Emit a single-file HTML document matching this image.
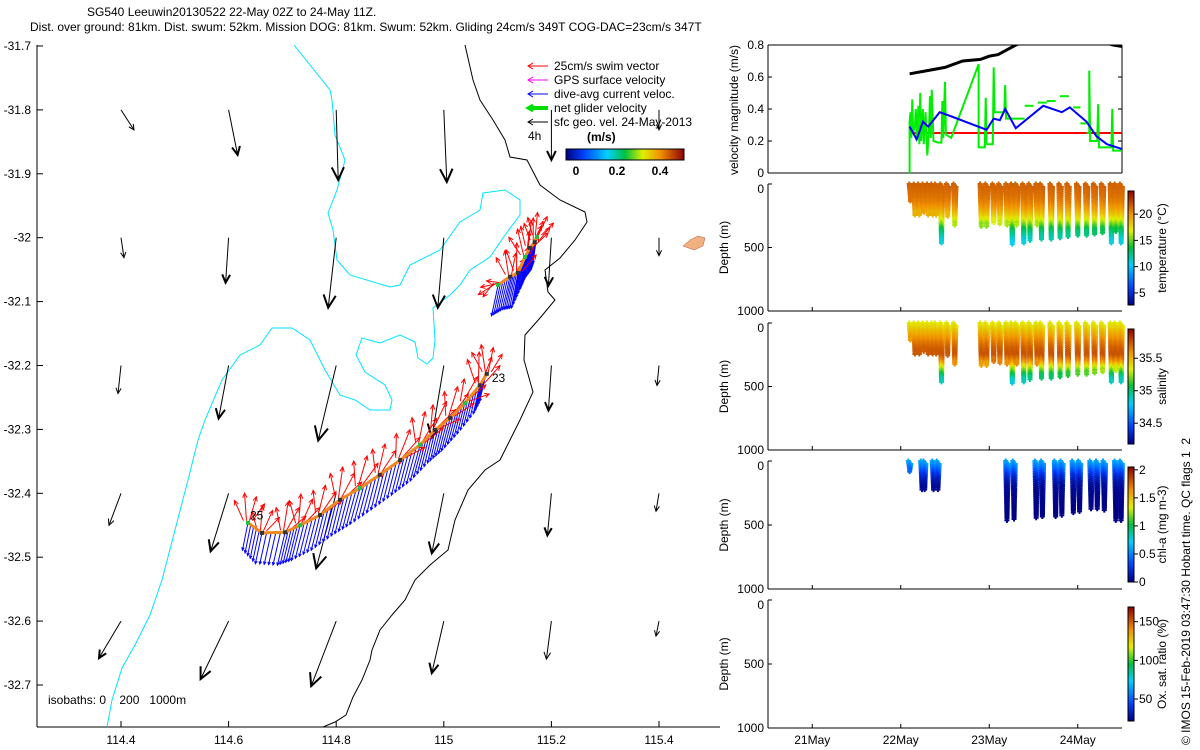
<!DOCTYPE html>
<html><head><meta charset="utf-8">
<style>
html,body{margin:0;padding:0;background:#fff;}
svg{display:block;font-family:"Liberation Sans",sans-serif;}
text{font-size:12px;fill:#000;}
</style></head>
<body>
<svg id="chart" width="1200" height="750" viewBox="0 0 1200 750" xmlns="http://www.w3.org/2000/svg">
<defs>
<linearGradient id="jetV" x1="0" y1="1" x2="0" y2="0">
<stop offset="0" stop-color="#000080"/><stop offset="0.15" stop-color="#0040ff"/><stop offset="0.35" stop-color="#00d0ff"/><stop offset="0.5" stop-color="#00c040"/><stop offset="0.65" stop-color="#e0f000"/><stop offset="0.8" stop-color="#f09000"/><stop offset="1" stop-color="#900000"/>
</linearGradient>
<linearGradient id="jetH" x1="0" y1="0" x2="1" y2="0">
<stop offset="0" stop-color="#000080"/><stop offset="0.15" stop-color="#0040ff"/><stop offset="0.35" stop-color="#00d0ff"/><stop offset="0.5" stop-color="#00c040"/><stop offset="0.65" stop-color="#e0f000"/><stop offset="0.8" stop-color="#f09000"/><stop offset="1" stop-color="#900000"/>
</linearGradient>
<clipPath id="mapClip"><rect x="37" y="45" width="683" height="682"/></clipPath>
<clipPath id="velClip"><rect x="768" y="45" width="354" height="128"/></clipPath>
</defs>
<text x="87" y="16">SG540 Leeuwin20130522 22-May 02Z to 24-May 11Z.</text>
<text x="30" y="31">Dist. over ground: 81km. Dist. swum: 52km. Mission DOG: 81km. Swum: 52km. Gliding 24cm/s 349T COG-DAC=23cm/s 347T</text>
<g id="map"></g>
<g id="panels"></g>
<text transform="translate(1190,745) rotate(-90)" style="white-space:pre">© IMOS 15-Feb-2019 03:47:30 Hobart time. QC flags 1  2</text>
</svg>
<script>
// ---------- MAP DATA ----------
const lonTicks=[114.4,114.6,114.8,115,115.2,115.4];
const latTicks=[-31.7,-31.8,-31.9,-32,-32.1,-32.2,-32.3,-32.4,-32.5,-32.6,-32.7];
const gridLon=[114.4,114.6,114.8,115.0,115.2,115.4];
const gridLat=[-31.8,-32.0,-32.2,-32.4,-32.6];
const geoU=[[0.13,0.09,0.02,0.03,0,0],[0.03,-0.03,-0.08,-0.06,-0.03,0],[-0.03,-0.10,-0.18,-0.12,-0.03,-0.02],[-0.12,-0.18,-0.20,-0.12,-0.04,-0.03],[-0.22,-0.28,-0.25,-0.12,-0.05,-0.03]];
const geoV=[[-0.20,-0.45,-0.70,-0.72,-0.50,-0.20],[-0.20,-0.45,-0.70,-0.70,-0.48,-0.18],[-0.28,-0.53,-0.75,-0.72,-0.45,-0.20],[-0.32,-0.58,-0.75,-0.60,-0.42,-0.18],[-0.37,-0.58,-0.65,-0.52,-0.38,-0.15]];
const mainLon=[114.636,114.662,114.705,114.733,114.770,114.807,114.844,114.881,114.919,114.956,114.984,115.012,115.039,115.067,115.080];
const mainLat=[-32.446,-32.462,-32.461,-32.450,-32.434,-32.410,-32.392,-32.371,-32.348,-32.324,-32.301,-32.282,-32.259,-32.231,-32.213];
const mainSwimU=[0.02,0.05,0.08,0.06,0.10,0.08,0.12,0.10,0.14,0.10,0.15,0.12,0.16,0.05,0.00];
const mainSwimV=[0.25,0.22,0.25,0.26,0.24,0.27,0.26,0.25,0.24,0.27,0.22,0.25,0.20,0.28,0.25];
const mainCurU=[-0.05,-0.06,-0.07,-0.08,-0.08,-0.08,-0.09,-0.08,-0.08,-0.09,-0.07,-0.08,-0.07,-0.06,-0.05];
const mainCurV=[-0.25,-0.28,-0.30,-0.32,-0.32,-0.33,-0.33,-0.32,-0.32,-0.33,-0.30,-0.30,-0.28,-0.26,-0.22];
const upLon=[115.101,115.123,115.138,115.151,115.160,115.169,115.173];
const upLat=[-32.074,-32.061,-32.055,-32.030,-32.016,-32.007,-31.999];
const upSwimU=[-0.18,0.00,0.04,-0.02,0.06,0.03,0.05];
const upSwimV=[-0.08,0.22,0.25,0.24,0.22,0.20,0.20];
const upCurU=[-0.06,-0.07,-0.06,-0.05,-0.05,-0.04,-0.03];
const upCurV=[-0.28,-0.30,-0.32,-0.30,-0.28,-0.26,-0.22];

// ---------- TIME SERIES DATA ----------
const dateTicks=[21,22,23,24];
const dateLabels=["21May","22May","23May","24May"];
const velTicks=[0,0.2,0.4,0.6,0.8];
const blackT=[22.10,22.30,22.50,22.60,22.70,22.90,23.00,23.10,23.20,23.30,23.60,24.00,24.40,24.51];
const blackV=[0.62,0.64,0.66,0.68,0.70,0.71,0.73,0.74,0.77,0.80,0.86,0.86,0.80,0.79];
const blueT=[22.10,22.18,22.25,22.31,22.44,22.59,22.97,23.05,23.12,23.18,23.30,23.61,23.82,23.91,24.10,24.21,24.33,24.50];
const blueV=[0.29,0.21,0.32,0.29,0.38,0.35,0.27,0.34,0.33,0.40,0.28,0.42,0.38,0.41,0.32,0.23,0.18,0.15];
const redT=[22.10,24.50];
const redV=[0.25,0.25];
const greenT=[22.10,22.10,22.11,22.12,22.13,22.14,22.16,22.17,22.18,22.20,22.21,22.22,22.23,22.25,22.26,22.28,22.30,22.32,22.33,22.34,22.35,22.37,22.42,22.46,22.47,22.48,22.50,22.51,22.57,22.88,22.88,22.95,22.96,22.97,23.04,23.05,23.06,23.17,23.18,23.19,23.25,23.40];
const greenV=[0.00,0.32,0.38,0.22,0.46,0.25,0.30,0.40,0.22,0.42,0.18,0.50,0.20,0.40,0.18,0.38,0.11,0.28,0.48,0.22,0.52,0.20,0.19,0.19,0.45,0.22,0.57,0.24,0.22,0.68,0.16,0.16,0.47,0.18,0.18,0.66,0.38,0.38,0.55,0.34,0.34,0.34];
const dashT0=[23.40,23.55,23.65,23.80,23.95,24.03];
const dashT1=[23.50,23.65,23.75,23.90,24.03,24.10];
const dashV=[0.42,0.44,0.45,0.48,0.41,0.31];
const green2T=[24.10,24.13,24.13,24.14,24.22,24.23,24.24,24.38,24.39,24.40,24.50];
const green2V=[0.25,0.25,0.64,0.20,0.20,0.43,0.16,0.16,0.40,0.14,0.14];
const diveT=[22.11,22.16,22.21,22.26,22.31,22.36,22.40,22.46,22.53,22.61,22.91,22.97,23.05,23.12,23.20,23.26,23.31,23.39,23.46,23.54,23.59,23.70,23.80,23.89,24.00,24.10,24.19,24.28,24.38,24.43,24.49];
const diveMax=[110,220,220,200,220,220,220,440,230,300,310,310,280,290,300,450,300,440,420,300,410,410,400,390,380,380,370,360,440,350,440];
const chlT=[22.10,22.24,22.27,22.37,22.42,23.20,23.28,23.53,23.60,23.75,23.82,23.95,24.02,24.15,24.22,24.30,24.43,24.49];
const chlMax=[60,200,200,200,200,440,430,420,410,410,400,380,370,350,350,360,440,440];
const profDepth=[0,100,150,200,250,300,350,400,450];
const tempVal=[21.5,21.0,20.5,19.5,18.0,16.0,13.5,12.0,10.5];
const salVal=[35.35,35.55,35.65,35.72,35.75,35.60,35.30,35.05,34.85];
const chlDepth=[0,50,100,150,200,300,450];
const chlVal=[0.60,0.45,0.25,0.12,0.05,0.02,0.01];
const tempCbTicks=[5,10,15,20];
const salCbTicks=[34.5,35,35.5];
const chlCbTicks=[0,0.5,1,1.5,2];
const chlCbLabels=["0","0.5","1","1.5","2"];
const oxCbTicks=[50,100,150];
const depthTicks=[0,500,1000];

// ---------- helpers ----------
const NS="http://www.w3.org/2000/svg";
function mk(tag,attrs,parent){const e=document.createElementNS(NS,tag);for(const k in attrs)e.setAttribute(k,attrs[k]);parent.appendChild(e);return e;}
const cmapPos=[0,0.15,0.35,0.5,0.65,0.8,1];
const cmapCol=[[0,0,128],[0,64,255],[0,208,255],[0,192,64],[224,240,0],[240,144,0],[144,0,0]];
function jet(f){f=Math.max(0,Math.min(1,f));let i=1;while(i<cmapPos.length-1&&f>cmapPos[i])i++;
 const t=(f-cmapPos[i-1])/(cmapPos[i]-cmapPos[i-1]);const a=cmapCol[i-1],b=cmapCol[i];
 return `rgb(${Math.round(a[0]+t*(b[0]-a[0]))},${Math.round(a[1]+t*(b[1]-a[1]))},${Math.round(a[2]+t*(b[2]-a[2]))})`;}
function interp(xs,ys,x){if(x<=xs[0])return ys[0];for(let i=1;i<xs.length;i++){if(x<=xs[i]){const t=(x-xs[i-1])/(xs[i]-xs[i-1]);return ys[i-1]+t*(ys[i]-ys[i-1]);}}return ys[ys.length-1];}

const map=document.getElementById('map');
const mx=lon=>121+(lon-114.4)*538;
const my=lat=>46+(-31.7-lat)*639;
const PXV=100;
let e=mk('line',{x1:37,y1:45,x2:37,y2:727,stroke:'#000','stroke-width':1},map);

e=mk('line',{x1:37,y1:727,x2:720,y2:727,stroke:'#000','stroke-width':1},map);

lonTicks.forEach(v=>{const x=mx(v);
 e=mk('line',{x1:x,y1:727,x2:x,y2:721,stroke:'#000'},map);
 
 e=mk('text',{x:x,y:744,'text-anchor':'middle'},map);e.textContent=String(v);
 });
latTicks.forEach(v=>{const y=my(v);
 e=mk('line',{x1:37,y1:y,x2:43,y2:y,stroke:'#000'},map);
 
 e=mk('text',{x:31,y:y+4,'text-anchor':'end'},map);e.textContent=String(v);
 });

const mg=mk('g',{'clip-path':'url(#mapClip)'},map);
e=mk('polyline',{fill:'none',stroke:'#00e5ff','stroke-width':1,points:"294,45 330,90 332,100 335,135 345,160 337,190 328,213 333,230 337,260 350,275 390,287 400,285 410,265 440,250 460,222 480,210 483,193 505,190 520,200 520,215 505,235 490,257 470,270 460,285 450,295 433,308 435,340 433,358 427,364 418,358 415,342 400,335 380,343 362,338 356,355 365,372 385,385 392,400 390,410 370,410 355,400 340,395 325,370 310,340 292,328 272,328 260,345 240,355 222,380 205,420 198,440 188,480 175,530 162,580 150,615 135,645 122,668 112,700 107,727"},mg);

e=mk('polyline',{fill:'none',stroke:'#000','stroke-width':1,points:"465,45 473,80 480,100 493,120 505,140 510,157 527,160 540,185 560,200 585,212 587,222 575,240 560,258 545,270 548,292 555,300 540,318 525,335 524,360 533,392 520,420 510,440 500,460 485,470 468,490 455,520 448,550 430,565 415,580 405,600 392,615 380,630 372,650 370,660 362,680 353,697 346,715 335,722 323,727"},mg);

e=mk('path',{d:"M683,246 L690,240 L698,236 L705,238 L703,246 L694,250 Z",fill:'#f0b080',stroke:'#a06040','stroke-width':0.5},mg);


function arrow(g,x,y,dx,dy,color,w,head,name){
 const grp=mk('g',{},g);
 mk('line',{x1:x,y1:y,x2:x+dx,y2:y+dy,stroke:color,'stroke-width':w},grp);
 const L=Math.hypot(dx,dy);if(L<1)return;const ux=dx/L,uy=dy/L;const h=head;
 const a=0.45;const ex=x+dx,ey=y+dy;
 const p1=[ex-h*(ux*Math.cos(a)-uy*Math.sin(a)),ey-h*(uy*Math.cos(a)+ux*Math.sin(a))];
 const p2=[ex-h*(ux*Math.cos(a)+uy*Math.sin(a)),ey-h*(uy*Math.cos(a)-ux*Math.sin(a))];
 mk('polyline',{points:`${p1[0]},${p1[1]} ${ex},${ey} ${p2[0]},${p2[1]}`,fill:'none',stroke:color,'stroke-width':w*(head>8?2:1)},grp);
}
gridLat.forEach((la,i)=>gridLon.forEach((lo,j)=>{
 const dx=geoU[i][j]*PXV,dy=-geoV[i][j]*PXV;const L=Math.hypot(dx,dy);
 arrow(mg,mx(lo),my(la),dx,dy,'#000',1,Math.max(6,L*0.2),'geo-velocity-arrow');
}));
const PXS=110;
function drawTrack(lons,lats,su,sv,cu,cv,label){
 for(let i=0;i<lons.length-1;i++){for(let k=0;k<5;k++){const t=k/5;
  const lo=lons[i]+t*(lons[i+1]-lons[i]),la=lats[i]+t*(lats[i+1]-lats[i]);
  const u=cu[i]+t*(cu[i+1]-cu[i]),v=cv[i]+t*(cv[i+1]-cv[i]);
  arrow(mg,mx(lo),my(la),u*PXS,-v*PXS,'#0000ff',1,3,'dive-avg-current-vector');}}
 lons.forEach((lo,i)=>{const x=mx(lo),y=my(lats[i]);
  [-0.5,-0.15,0.2,0.55].forEach((r,k)=>{const dx=su[i]*PXS,dy=-sv[i]*PXS;
   const c=Math.cos(r),s=Math.sin(r);const f=[0.8,1,0.9,0.75][k];
   arrow(mg,x+(k-1.5)*3,y-2,f*(dx*c-dy*s),f*(dx*s+dy*c),'#ff0000',1,5,'swim-vector');});});
 const pts=lons.map((lo,i)=>mx(lo)+','+my(lats[i])).join(' ');
 e=mk('polyline',{points:pts,fill:'none',stroke:'#f08a20','stroke-width':3},mg);
 
 lons.forEach((lo,i)=>{e=mk('rect',{x:mx(lo)-2,y:my(lats[i])-2,width:4,height:4,fill:i%3===0?'#20c040':'#333'},mg);
  });
}
drawTrack(mainLon,mainLat,mainSwimU,mainSwimV,mainCurU,mainCurV,'glider-track-main');
drawTrack(upLon,upLat,upSwimU,upSwimV,upCurU,upCurV,'glider-track-north');
e=mk('text',{x:mx(mainLon[0])+2,y:my(mainLat[0])-3},mg);e.textContent='25';

e=mk('text',{x:mx(mainLon[mainLon.length-1])+5,y:my(mainLat[mainLat.length-1])+8},mg);e.textContent='23';

e=mk('text',{x:48,y:704,style:'white-space:pre'},map);e.textContent='isobaths: 0    200   1000m';


const lg=mk('g',{},map);
const legItems=[['25cm/s swim vector','#ff0000',1],['GPS surface velocity','#ff00ff',1],['dive-avg current veloc.','#0000ff',1],['net glider velocity','#00e000',4],['sfc geo. vel. 24-May-2013','#000',1]];
legItems.forEach((it,i)=>{const y=66+i*14;
 const g2=mk('g',{},lg);
 mk('line',{x1:528,y1:y,x2:548,y2:y,stroke:it[1],'stroke-width':it[2]},g2);
 mk('polyline',{points:`533,${y-3} 528,${y} 533,${y+3}`,fill:'none',stroke:it[1],'stroke-width':it[2]>1?3:1},g2);
 const t=mk('text',{x:554,y:y+4},g2);t.textContent=it[0];});
e=mk('text',{x:528,y:140},lg);e.textContent='4h';

e=mk('text',{x:587,y:141,'font-weight':'bold'},lg);e.textContent='(m/s)';

e=mk('rect',{x:566,y:149,width:118,height:11,fill:'url(#jetH)',stroke:'#000'},lg);

[[0,576],[0.2,617],[0.4,660]].forEach(p=>{e=mk('text',{x:p[1],y:175,'text-anchor':'middle','font-weight':'bold'},lg);e.textContent=String(p[0]);
 });

// ---------- RIGHT PANELS ----------
const pn=document.getElementById('panels');
const X0=768,X1=1122;
const tx=t=>X0+(t-20.5)*88.5;
const VT=45,VB=173;const vy=v=>VB-v*(VB-VT)/0.8;
e=mk('line',{x1:X0,y1:VT,x2:X1,y2:VT,stroke:'#000'},pn);
e=mk('line',{x1:X0,y1:VB,x2:X1,y2:VB,stroke:'#000'},pn);
e=mk('line',{x1:X0,y1:VT,x2:X0,y2:VB,stroke:'#000'},pn);
e=mk('line',{x1:X1,y1:VT,x2:X1,y2:VB,stroke:'#000'},pn);
velTicks.forEach(v=>{const y=vy(v);
 mk('line',{x1:X0,y1:y,x2:X0+4,y2:y,stroke:'#000'},pn);mk('line',{x1:X1,y1:y,x2:X1-4,y2:y,stroke:'#000'},pn);
 e=mk('text',{x:X0-4,y:y+4,'text-anchor':'end'},pn);e.textContent=String(v);
 });
e=mk('text',{transform:`translate(738,110) rotate(-90)`,'text-anchor':'middle'},pn);e.textContent='velocity magnitude (m/s)';

const vc=mk('g',{'clip-path':'url(#velClip)'},pn);
function pl(ts,vs,col,w,name){e=mk('polyline',{points:ts.map((t,i)=>tx(t)+','+vy(vs[i])).join(' '),fill:'none',stroke:col,'stroke-width':w},vc);
 }
pl(redT,redV,'#ff0000',2,'swim-speed-line');
pl(greenT,greenV,'#00ee00',2,'net-velocity-line');
pl(green2T,green2V,'#00ee00',2,'net-velocity-line-end');
dashT0.forEach((t,i)=>{e=mk('line',{x1:tx(t),y1:vy(dashV[i]),x2:tx(dashT1[i]),y2:vy(dashV[i]),stroke:'#00ee00','stroke-width':2},vc);
 });
pl(blueT,blueV,'#0000ff',2,'current-speed-line');
pl(blackT,blackV,'#000',3,'geo-speed-line');

const panels=[{top:184,bot:311,name:'temperature'},{top:323,bot:450,name:'salinity'},{top:461,bot:589,name:'chlorophyll'},{top:600,bot:728,name:'oxygen'}];
panels.forEach(p=>{const dy=d=>p.top+d*(p.bot-p.top)/1000;
 e=mk('line',{x1:X0,y1:p.top,x2:X0,y2:p.bot,stroke:'#000'},pn);
 e=mk('line',{x1:X0,y1:p.bot,x2:X1,y2:p.bot,stroke:'#000'},pn);
 depthTicks.forEach(d=>{const y=dy(d);mk('line',{x1:X0,y1:y,x2:X0+4,y2:y,stroke:'#000'},pn);
  e=mk('text',{x:X0-4,y:y+(d===0?9:4),'text-anchor':'end'},pn);e.textContent=String(d);
  });
 dateTicks.forEach(t=>{mk('line',{x1:tx(t),y1:p.bot,x2:tx(t),y2:p.bot-4,stroke:'#000'},pn);});
 e=mk('text',{transform:`translate(728,${(p.top+p.bot)/2}) rotate(-90)`,'text-anchor':'middle'},pn);e.textContent='Depth (m)';
 
 p.dy=dy;});
dateTicks.forEach((t,i)=>{e=mk('text',{x:tx(t),y:744,'text-anchor':'middle'},pn);e.textContent=dateLabels[i];
 });

function plus(g,x,y,col){mk('path',{d:`M${x-2.5},${y}h5M${x},${y-2.5}v5`,stroke:col,'stroke-width':2},g);}
function dives(p,ts,maxs,dep,vals,lo,hi,name){
 const g=mk('g',{},pn);
 ts.forEach((t,i)=>{const half=0.014;const n=Math.max(2,Math.round(maxs[i]/16));
  for(let k=0;k<=n;k++){const d=maxs[i]*k/n;const v=interp(dep,vals,d);const col=jet((v-lo)/(hi-lo));
   plus(g,tx(t-half*(1-k/n)),p.dy(d),col);plus(g,tx(t+half*(1-k/n)),p.dy(d)+3,col);}
 });}
dives(panels[0],diveT,diveMax,profDepth,tempVal,2.7,24.4,'temperature');
dives(panels[1],diveT,diveMax,profDepth,salVal,34.18,35.95,'salinity');
dives(panels[2],chlT,chlMax,chlDepth,chlVal,0,2.05,'chlorophyll');

function cbar(top,bot,lo,hi,ticks,labels,title,name){
 e=mk('rect',{x:1128,y:top,width:6,height:bot-top,fill:'url(#jetV)',stroke:'#000','stroke-width':1},pn);
 
 ticks.forEach((v,i)=>{const y=bot-(v-lo)/(hi-lo)*(bot-top);
  mk('line',{x1:1134,y1:y,x2:1138,y2:y,stroke:'#000'},pn);
  e=mk('text',{x:1139,y:y+4},pn);e.textContent=labels?labels[i]:String(v);
  });
 e=mk('text',{transform:`translate(1166,${(top+bot)/2}) rotate(-90)`,'text-anchor':'middle'},pn);e.textContent=title;
 }
cbar(191,305,2.7,24.4,tempCbTicks,null,'temperature (°C)','temperature');
cbar(329,444,34.18,35.95,salCbTicks,null,'salinity','salinity');
cbar(467,582,0,2.05,chlCbTicks,chlCbLabels,'chl-a (mg m-3)','chlorophyll');
cbar(607,721,21.6,169,oxCbTicks,null,'Ox. sat. ratio (%)','oxygen');
</script>
</body></html>
